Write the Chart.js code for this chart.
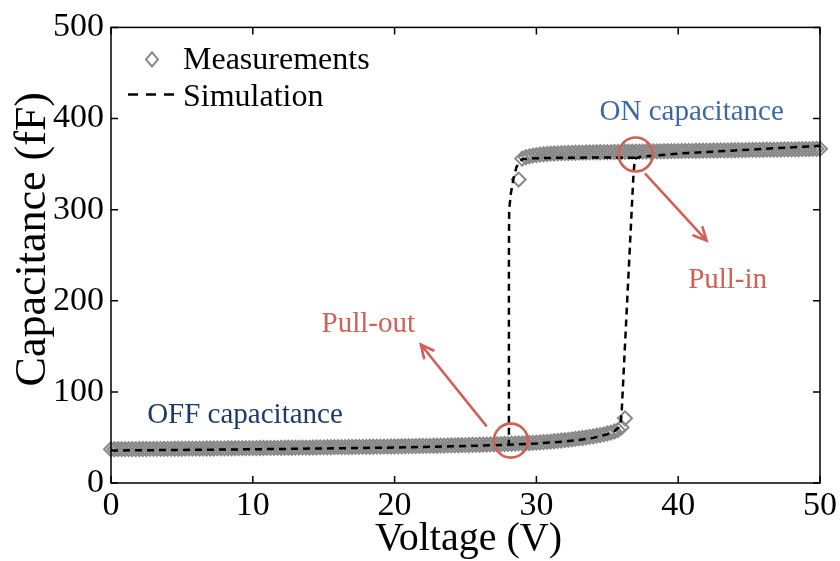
<!DOCTYPE html>
<html>
<head>
<meta charset="utf-8">
<script src="https://cdn.jsdelivr.net/npm/chart.js@4.4.1/dist/chart.umd.min.js"></script>
<style>
  html, body { margin: 0; padding: 0; background: #fff; }
  canvas { display: block; }
</style>
</head>
<body>
<canvas id="chart" width="840" height="561"></canvas>
<script>
// Mesures : branche OFF (balayage 0 -> 36.25 V)
const offV = [
  0, 0.25, 0.5, 0.75, 1, 1.25, 1.5, 1.75, 2, 2.25, 2.5, 2.75, 3, 3.25, 3.5, 3.75,
  4, 4.25, 4.5, 4.75, 5, 5.25, 5.5, 5.75, 6, 6.25, 6.5, 6.75, 7, 7.25, 7.5, 7.75,
  8, 8.25, 8.5, 8.75, 9, 9.25, 9.5, 9.75, 10, 10.25, 10.5, 10.75, 11, 11.25, 11.5, 11.75,
  12, 12.25, 12.5, 12.75, 13, 13.25, 13.5, 13.75, 14, 14.25, 14.5, 14.75, 15, 15.25, 15.5, 15.75,
  16, 16.25, 16.5, 16.75, 17, 17.25, 17.5, 17.75, 18, 18.25, 18.5, 18.75, 19, 19.25, 19.5, 19.75,
  20, 20.25, 20.5, 20.75, 21, 21.25, 21.5, 21.75, 22, 22.25, 22.5, 22.75, 23, 23.25, 23.5, 23.75,
  24, 24.25, 24.5, 24.75, 25, 25.25, 25.5, 25.75, 26, 26.25, 26.5, 26.75, 27, 27.25, 27.5, 27.75,
  28, 28.25, 28.5, 28.75, 29, 29.25, 29.5, 29.75, 30, 30.25, 30.5, 30.75, 31, 31.25, 31.5, 31.75,
  32, 32.25, 32.5, 32.75, 33, 33.25, 33.5, 33.75, 34, 34.25, 34.5, 34.75, 35, 35.25, 35.5, 35.75,
  36, 36.25
];
const offC = [
  37.0, 37.0, 37.1, 37.1, 37.1, 37.2, 37.2, 37.2, 37.3, 37.3, 37.3, 37.4, 37.4, 37.4, 37.5, 37.5,
  37.5, 37.5, 37.6, 37.6, 37.6, 37.7, 37.7, 37.7, 37.8, 37.8, 37.8, 37.9, 37.9, 37.9, 38.0, 38.0,
  38.0, 38.1, 38.1, 38.1, 38.2, 38.2, 38.2, 38.3, 38.3, 38.3, 38.4, 38.4, 38.5, 38.5, 38.5, 38.6,
  38.6, 38.7, 38.7, 38.7, 38.8, 38.8, 38.9, 38.9, 38.9, 39.0, 39.0, 39.1, 39.1, 39.2, 39.2, 39.3,
  39.3, 39.4, 39.4, 39.5, 39.5, 39.6, 39.6, 39.7, 39.7, 39.8, 39.8, 39.9, 39.9, 40.0, 40.0, 40.1,
  40.1, 40.2, 40.3, 40.3, 40.4, 40.5, 40.5, 40.6, 40.7, 40.7, 40.8, 40.9, 40.9, 41.0, 41.1, 41.2,
  41.2, 41.3, 41.4, 41.5, 41.6, 41.7, 41.8, 41.9, 42.0, 42.1, 42.2, 42.3, 42.4, 42.5, 42.7, 42.8,
  42.9, 43.1, 43.2, 43.4, 43.5, 43.7, 43.9, 44.1, 44.3, 44.6, 44.9, 45.2, 45.5, 45.8, 46.2, 46.6,
  47.0, 47.4, 47.9, 48.4, 48.9, 49.4, 50.0, 50.6, 51.2, 51.9, 52.6, 53.4, 54.3, 55.3, 56.5, 58.0,
  61.0, 71.0
];

// Mesures : branche ON (28.75 -> 50 V)
const onV = [
  28.75, 29, 29.25, 29.5, 29.75, 30, 30.25, 30.5, 30.75, 31, 31.25, 31.5, 31.75,
  32, 32.25, 32.5, 32.75, 33, 33.25, 33.5, 33.75, 34, 34.25, 34.5, 34.75, 35, 35.25, 35.5, 35.75,
  36, 36.25, 36.5, 36.75, 37, 37.25, 37.5, 37.75, 38, 38.25, 38.5, 38.75, 39, 39.25, 39.5, 39.75,
  40, 40.25, 40.5, 40.75, 41, 41.25, 41.5, 41.75, 42, 42.25, 42.5, 42.75, 43, 43.25, 43.5, 43.75,
  44, 44.25, 44.5, 44.75, 45, 45.25, 45.5, 45.75, 46, 46.25, 46.5, 46.75, 47, 47.25, 47.5, 47.75,
  48, 48.25, 48.5, 48.75, 49, 49.25, 49.5, 49.75, 50
];
const onC = [
  333, 356.0, 357.5, 358.5, 359.3, 359.9, 360.4, 360.8, 361.1, 361.4, 361.6, 361.8, 362.0,
  362.1, 362.2, 362.3, 362.4, 362.5, 362.6, 362.7, 362.8, 362.9, 363.0, 363.0, 363.1, 363.2, 363.2, 363.3, 363.3,
  363.4, 363.5, 363.5, 363.6, 363.6, 363.7, 363.7, 363.8, 363.9, 363.9, 364.0, 364.0, 364.1, 364.1, 364.2, 364.2,
  364.3, 364.4, 364.4, 364.5, 364.5, 364.6, 364.6, 364.7, 364.8, 364.8, 364.9, 364.9, 365.0, 365.0, 365.1, 365.2,
  365.2, 365.3, 365.3, 365.4, 365.5, 365.5, 365.6, 365.6, 365.7, 365.8, 365.8, 365.9, 365.9, 366.0, 366.1, 366.1,
  366.2, 366.2, 366.3, 366.4, 366.4, 366.5, 366.6, 366.6, 366.7
];

// Simulation : montée (pull-in)
const simV = [0, 5, 10, 15, 20, 25, 28, 30, 32, 33, 34, 35, 35.5, 35.8, 35.95, 36.02, 36.85, 36.95, 37.3, 38, 40, 44, 47, 50];
const simC = [35.7, 36.3, 37.0, 37.9, 38.9, 40.6, 41.9, 43.3, 45.5, 47.2, 49.5, 53.5, 57.0, 61.0, 66.0, 80, 340, 356, 357.8, 359, 361.5, 365, 367.5, 370];

// Simulation : descente (pull-out)
const simBackV = [36.95, 34, 31, 29.5, 28.97, 28.6, 28.41, 28.2, 28.08, 28.06, 28.06];
const simBackC = [357, 357.2, 356.8, 356.2, 355, 347, 336, 318, 300, 250, 42];

const xTicks = [0, 10, 20, 30, 40, 50];
const yTicks = [0, 100, 200, 300, 400, 500];

const zip = (xs, ys) => xs.map((x, i) => ({ x: x, y: ys[i] }));

const SERIF = "'Liberation Serif', 'Times New Roman', serif";
const RED = '#cf6159';
const GREY = '#888888';

// Annotations (en unités des axes)
const notes = [
  { text: 'OFF capacitance', x: 2.55, y: 66, color: '#1f3a66' },
  { text: 'ON capacitance', x: 34.45, y: 398, color: '#3d68a6' },
  { text: 'Pull-out', x: 14.85, y: 165.5, color: RED },
  { text: 'Pull-in', x: 40.7, y: 214.5, color: RED }
];
const circles = [{ x: 28.2, y: 46.5 }, { x: 37.0, y: 360.5 }];
const arrows = [
  { from: [26.45, 63], to: [21.85, 152] },
  { from: [37.7, 339], to: [42.0, 266] }
];

const measStyle = {
  label: 'Measurements',
  showLine: false,
  pointStyle: 'rectRot',
  pointRadius: 7,
  pointBorderWidth: 2,
  borderColor: GREY,
  backgroundColor: 'rgba(0,0,0,0)',
  clip: false,
  order: 2
};
const simStyle = {
  showLine: true,
  borderColor: '#000',
  borderWidth: 2.5,
  borderDash: [7, 5],
  pointRadius: 0,
  fill: false,
  order: 1
};

// Cadre, graduations internes, annotations, légende et titres d'axes
const decor = {
  id: 'decor',
  afterDraw(chart) {
    const { ctx, chartArea: a, scales: { x, y } } = chart;
    ctx.save();

    // cadre
    ctx.strokeStyle = '#000';
    ctx.lineWidth = 1.5;
    ctx.strokeRect(a.left, a.top, a.right - a.left, a.bottom - a.top);

    // graduations vers l'intérieur
    ctx.beginPath();
    xTicks.forEach(v => {
      const px = x.getPixelForValue(v);
      ctx.moveTo(px, a.bottom); ctx.lineTo(px, a.bottom - 7);
      ctx.moveTo(px, a.top); ctx.lineTo(px, a.top + 7);
    });
    yTicks.forEach(v => {
      const py = y.getPixelForValue(v);
      ctx.moveTo(a.left, py); ctx.lineTo(a.left + 7, py);
      ctx.moveTo(a.right, py); ctx.lineTo(a.right - 7, py);
    });
    ctx.stroke();

    // cercles
    ctx.strokeStyle = RED;
    ctx.lineWidth = 2.6;
    circles.forEach(c => {
      ctx.beginPath();
      ctx.arc(x.getPixelForValue(c.x), y.getPixelForValue(c.y), 17, 0, Math.PI * 2);
      ctx.stroke();
    });

    // flèches
    ctx.lineWidth = 2.6;
    ctx.lineCap = 'round';
    arrows.forEach(ar => {
      const x0 = x.getPixelForValue(ar.from[0]), y0 = y.getPixelForValue(ar.from[1]);
      const x1 = x.getPixelForValue(ar.to[0]), y1 = y.getPixelForValue(ar.to[1]);
      const ang = Math.atan2(y1 - y0, x1 - x0);
      ctx.beginPath();
      ctx.moveTo(x0, y0); ctx.lineTo(x1, y1);
      ctx.moveTo(x1 - 14 * Math.cos(ang - 0.45), y1 - 14 * Math.sin(ang - 0.45));
      ctx.lineTo(x1, y1);
      ctx.lineTo(x1 - 14 * Math.cos(ang + 0.45), y1 - 14 * Math.sin(ang + 0.45));
      ctx.stroke();
    });

    // textes
    ctx.font = '29px ' + SERIF;
    ctx.textAlign = 'left';
    ctx.textBaseline = 'alphabetic';
    notes.forEach(n => {
      ctx.fillStyle = n.color;
      ctx.fillText(n.text, x.getPixelForValue(n.x), y.getPixelForValue(n.y));
    });

    // légende
    const lx = a.left, ly = a.top;
    ctx.strokeStyle = GREY;
    ctx.lineWidth = 2;
    ctx.beginPath();
    ctx.moveTo(lx + 35, ly + 32);
    ctx.lineTo(lx + 41, ly + 25);
    ctx.lineTo(lx + 47, ly + 32);
    ctx.lineTo(lx + 41, ly + 39);
    ctx.closePath();
    ctx.stroke();
    ctx.strokeStyle = '#000';
    ctx.lineWidth = 2.5;
    ctx.lineCap = 'butt';
    ctx.setLineDash([10, 8]);
    ctx.beginPath();
    ctx.moveTo(lx + 17, ly + 67);
    ctx.lineTo(lx + 68, ly + 67);
    ctx.stroke();
    ctx.setLineDash([]);
    ctx.fillStyle = '#000';
    ctx.font = '32px ' + SERIF;
    ctx.fillText('Measurements', lx + 72, ly + 42);
    ctx.fillText('Simulation', lx + 72, ly + 79);

    // titres d'axes
    ctx.textAlign = 'center';
    ctx.textBaseline = 'middle';
    ctx.font = '40px ' + SERIF;
    ctx.fillText('Voltage (V)', (a.left + a.right) / 2 + 3, 539);
    ctx.font = '44px ' + SERIF;
    ctx.translate(33, (a.top + a.bottom) / 2 - 16);
    ctx.rotate(-Math.PI / 2);
    ctx.fillText('Capacitance (fF)', 0, 0);

    ctx.restore();
  }
};

const ctx = document.getElementById('chart').getContext('2d');
new Chart(ctx, {
  type: 'scatter',
  data: {
    datasets: [
      Object.assign({ label: 'Simulation', data: zip(simV, simC) }, simStyle),
      Object.assign({ label: 'Simulation', data: zip(simBackV, simBackC) }, simStyle),
      Object.assign({}, measStyle, { data: zip(offV, offC) }),
      Object.assign({}, measStyle, { data: zip(onV, onC) })
    ]
  },
  options: {
    responsive: false,
    animation: false,
    layout: { padding: { top: 21, right: 18, left: 0, bottom: 0 } },
    plugins: { legend: { display: false }, tooltip: { enabled: false } },
    scales: {
      x: {
        type: 'linear', min: 0, max: 50,
        afterBuildTicks: s => { s.ticks = xTicks.map(v => ({ value: v })); },
        ticks: { color: '#000', font: { family: SERIF, size: 34 }, padding: 3, maxRotation: 0 },
        grid: { display: false, drawTicks: false },
        border: { display: false },
        afterFit: s => { s.height = 78; }
      },
      y: {
        type: 'linear', min: 0, max: 500,
        afterBuildTicks: s => { s.ticks = yTicks.map(v => ({ value: v })); },
        ticks: { color: '#000', font: { family: SERIF, size: 34 }, padding: 7 },
        grid: { display: false, drawTicks: false },
        border: { display: false },
        afterFit: s => { s.width = 111; }
      }
    }
  },
  plugins: [decor]
});
</script>
</body>
</html>
